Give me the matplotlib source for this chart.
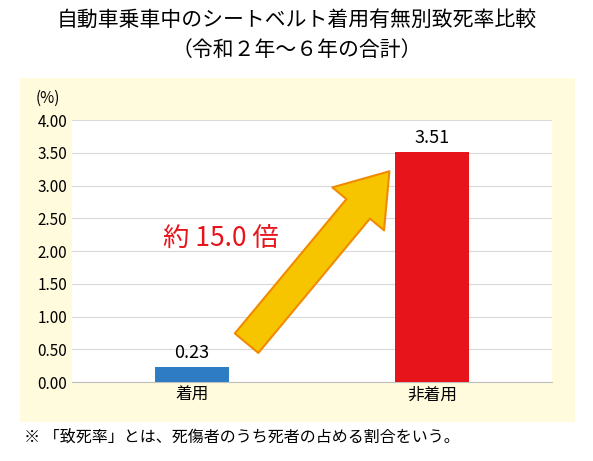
import matplotlib.pyplot as plt
from matplotlib.patches import Rectangle, FancyArrowPatch

plt.rcParams['font.family'] = ['Noto Sans CJK JP', 'DejaVu Sans']

categories = ["着用", "非着用"]
rates = [0.23, 3.51]
bar_colors = ["#2e7dc4", "#e8141c"]
yticks = [0.0, 0.5, 1.0, 1.5, 2.0, 2.5, 3.0, 3.5, 4.0]

W, H = 593, 461
fig = plt.figure(figsize=(W / 100, H / 100), dpi=100)
fig.patch.set_facecolor("white")

# yellow panel behind the chart
fig.add_artist(Rectangle((20 / W, 1 - 422 / H), 555 / W, 344 / H,
                         transform=fig.transFigure, facecolor="#fffbdc",
                         edgecolor="none", zorder=-1))

ax = fig.add_axes([72 / W, 1 - 382 / H, 480 / W, 262 / H])
ax.set_zorder(1)
ax.set_facecolor("white")
x = range(len(categories))
ax.bar(x, rates, width=0.31, color=bar_colors, zorder=3)
ax.set_xlim(-0.5, 1.5)
ax.set_ylim(0, 4.0)
ax.set_yticks(yticks)
ax.set_yticklabels([f"{v:.2f}" for v in yticks], fontsize=11)
ax.set_xticks(list(x))
ax.set_xticklabels(categories, fontsize=12)
ax.grid(axis="y", color="#d9d9d9", linewidth=0.8, zorder=0)
for s in ax.spines.values():
    s.set_visible(False)
ax.spines["bottom"].set_visible(True)
ax.spines["bottom"].set_color("#bfbfbf")
ax.tick_params(length=0)

for xi, v in zip(x, rates):
    ax.text(xi, v + 0.08, f"{v:.2f}", ha="center", va="bottom", fontsize=13)

arrow = FancyArrowPatch((0.22, 0.56), (0.83, 3.25),
                        arrowstyle="simple,head_width=2.2,head_length=1.6,tail_width=1.0",
                        mutation_scale=22, facecolor="#f7c400", edgecolor="#f08a00",
                        linewidth=1.5, zorder=4)
ax.add_patch(arrow)
ax.text(0.12, 2.17, "約 15.0 倍", color="#e8141c", fontsize=19, ha="center", va="center", zorder=5)

fig.text(36 / W, 1 - 98 / H, "(%)", fontsize=11, ha="left", va="center")
fig.text(0.5, 1 - 20 / H, "自動車乗車中のシートベルト着用有無別致死率比較", fontsize=15, ha="center", va="center")
fig.text(0.5, 1 - 50 / H, "（令和２年～６年の合計）", fontsize=15, ha="center", va="center")
fig.text(24 / W, 1 - 437 / H, "※ 「致死率」とは、死傷者のうち死者の占める割合をいう。", fontsize=11.5, ha="left", va="center")

fig.savefig("out.png", dpi=100)
